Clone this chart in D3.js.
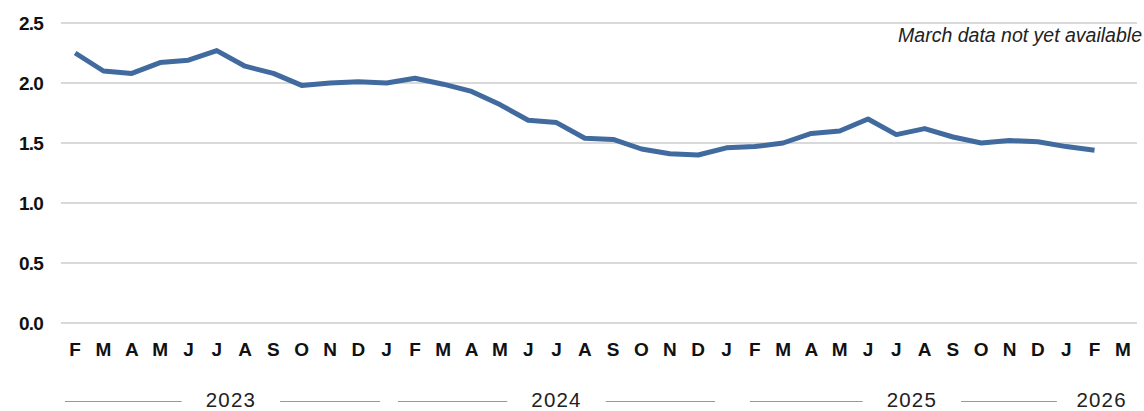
<!DOCTYPE html>
<html>
<head>
<meta charset="utf-8">
<script src="https://cdn.jsdelivr.net/npm/d3@7"></script>
<style>
  html, body { margin: 0; padding: 0; background: #fff; }
  svg { display: block; font-family: "Liberation Sans", Arial, sans-serif; }
</style>
</head>
<body>
<svg id="chart" width="1144" height="411"></svg>
<script>
// ---- data ----
const months = ["F","M","A","M","J","J","A","S","O","N","D",
                "J","F","M","A","M","J","J","A","S","O","N","D",
                "J","F","M","A","M","J","J","A","S","O","N","D",
                "J","F","M"];
const values = [2.25, 2.10, 2.08, 2.17, 2.19, 2.27, 2.14, 2.08, 1.98, 2.00, 2.01,
                2.00, 2.04, 1.99, 1.93, 1.82, 1.69, 1.67, 1.54, 1.53, 1.45, 1.41, 1.40,
                1.46, 1.47, 1.50, 1.58, 1.60, 1.70, 1.57, 1.62, 1.55, 1.50, 1.52, 1.51,
                1.47, 1.44, null];
const yTicks = [0, 0.5, 1.0, 1.5, 2.0, 2.5];
const years = ["2023", "2024", "2025", "2026"];
const note = "March data not yet available";

// ---- layout (in band-edge units along the month axis) ----
const yearLayout = [
  { from: 0.14, center: 6.0,  to: 11.27, lines: true },
  { from: 11.9, center: 17.5, to: 23.1,  lines: true },
  { from: 24.33, center: 30.05, to: 35.17, lines: true },
  { from: null, center: 36.75, to: null, lines: false }
];

const svg = d3.select("#chart");
const mLeft = 61, mRight = 1137, mTop = 23, mBottom = 323;

const x = d3.scaleBand().domain(d3.range(months.length)).range([mLeft, mRight]).paddingInner(0).paddingOuter(0);
const step = x.step();
const xc = i => x(i) + x.bandwidth() / 2;
const xe = u => mLeft + u * step;

const y = d3.scaleLinear().domain([0, 2.5]).range([mBottom, mTop]);

// gridlines
svg.append("g").selectAll("line").data(yTicks).join("line")
  .attr("x1", mLeft).attr("x2", mRight)
  .attr("y1", d => y(d)).attr("y2", d => y(d))
  .attr("stroke", "#d9d9d9").attr("stroke-width", 2);

// y axis labels
svg.append("g").selectAll("text").data(yTicks).join("text")
  .attr("x", 43).attr("y", d => y(d)).attr("dy", "0.36em")
  .attr("text-anchor", "end")
  .attr("font-size", 19).attr("font-weight", "bold").attr("fill", "#111")
  .attr("letter-spacing", "-0.8")
  .text(d => d3.format(".1f")(d));

// month labels
svg.append("g").selectAll("text").data(months).join("text")
  .attr("x", (d, i) => xc(i)).attr("y", 356)
  .attr("text-anchor", "middle")
  .attr("font-size", 19).attr("font-weight", "bold").attr("fill", "#111")
  .text(d => d);

// year labels + lines
const yg = svg.append("g");
years.forEach((yr, i) => {
  const L = yearLayout[i];
  const cx = xe(L.center);
  const t = yg.append("text")
    .attr("x", cx).attr("y", 406.5)
    .attr("text-anchor", "middle")
    .attr("font-size", 20.5).attr("fill", "#222")
    .attr("letter-spacing", "1.2")
    .text(yr);
  if (L.lines) {
    const w = t.node().getComputedTextLength();
    const gap = 24;
    yg.append("line").attr("x1", xe(L.from)).attr("x2", cx - w / 2 - gap)
      .attr("y1", 401.5).attr("y2", 401.5).attr("stroke", "#999").attr("stroke-width", 1);
    yg.append("line").attr("x1", cx + w / 2 + gap).attr("x2", xe(L.to))
      .attr("y1", 401.5).attr("y2", 401.5).attr("stroke", "#999").attr("stroke-width", 1);
  }
});

// data line
const line = d3.line()
  .defined(d => d != null)
  .x((d, i) => xc(i))
  .y(d => y(d));
svg.append("path").datum(values)
  .attr("d", line)
  .attr("fill", "none")
  .attr("stroke", "#416b9f")
  .attr("stroke-width", 5)
  .attr("stroke-linejoin", "round")
  .attr("stroke-linecap", "butt");

// note
svg.append("text")
  .attr("x", 1142).attr("y", 42)
  .attr("text-anchor", "end")
  .attr("font-size", 19.5).attr("font-style", "italic").attr("fill", "#222")
  .attr("letter-spacing", "0")
  .text(note);
</script>
</body>
</html>
